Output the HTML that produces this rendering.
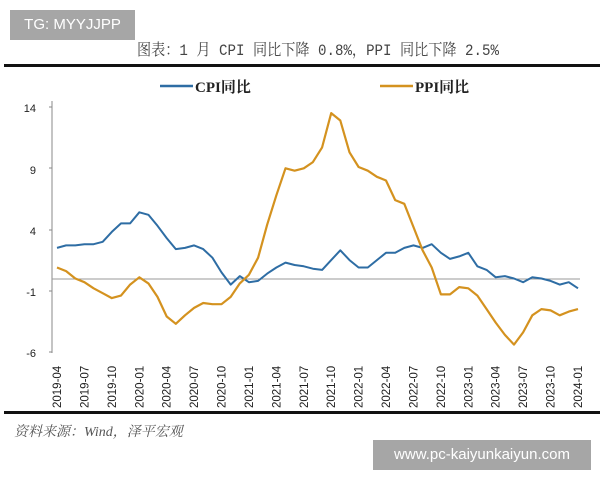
<!DOCTYPE html>
<html><head><meta charset="utf-8"><style>
body{margin:0;background:#fff;width:600px;height:480px;overflow:hidden;position:relative;font-family:"Liberation Sans","Noto Sans CJK SC",sans-serif}
.box{position:absolute;background:#a6a6a6;color:#fff;font-size:15px}
</style></head><body>
<svg id="s" width="600" height="480" style="position:absolute;left:0;top:0">
<text x="137" y="55" textLength="362" lengthAdjust="spacingAndGlyphs" font-family="Liberation Mono,Noto Serif CJK SC,serif" font-size="16" fill="#444">图表：1 月 CPI 同比下降 0.8%，PPI 同比下降 2.5%</text>
<rect x="4" y="64" width="596" height="3" fill="#111"/>
<line x1="160" y1="86" x2="193" y2="86" stroke="#2e6da4" stroke-width="2.5"/>
<text x="195" y="92" font-size="15" font-weight="bold" fill="#222" font-family="Liberation Serif,Noto Serif CJK SC,serif">CPI同比</text>
<line x1="380" y1="86" x2="413" y2="86" stroke="#d4921f" stroke-width="2.5"/>
<text x="415" y="92" font-size="15" font-weight="bold" fill="#222" font-family="Liberation Serif,Noto Serif CJK SC,serif">PPI同比</text>
<line x1="52" y1="101" x2="52" y2="353" stroke="#888" stroke-width="1"/>
<line x1="52" y1="279" x2="580" y2="279" stroke="#999" stroke-width="1"/>
<g font-size="11" fill="#222" text-anchor="end">
<text x="36" y="112">14</text><text x="36" y="174">9</text><text x="36" y="235">4</text><text x="36" y="296">-1</text><text x="36" y="357">-6</text>
</g>
<g stroke="#888"><line x1="49" y1="107" x2="52" y2="107"/><line x1="49" y1="168" x2="52" y2="168"/><line x1="49" y1="230" x2="52" y2="230"/><line x1="49" y1="291" x2="52" y2="291"/><line x1="49" y1="352" x2="52" y2="352"/></g>
<g id="xl" font-size="11.5" fill="#222"></g>
<polyline id="cpi" fill="none" stroke="#2e6da4" stroke-width="2" stroke-linejoin="round"/>
<polyline id="ppi" fill="none" stroke="#d4921f" stroke-width="2.2" stroke-linejoin="round"/>
<rect x="4" y="411" width="596" height="3" fill="#111"/>
<text x="14" y="436" font-size="14" font-style="italic" fill="#555" font-family="Liberation Serif,Noto Serif CJK SC,serif">资料来源：Wind，泽平宏观</text>
</svg>
<div class="box" style="left:10px;top:10px;width:125px;height:30px;line-height:30px;text-align:center">TG: MYYJJPP</div>
<div class="box" style="left:373px;top:440px;width:218px;height:30px;line-height:30px;text-align:center">www.pc-kaiyunkaiyun.com</div>
<script>
var cpi=[2.5,2.7,2.7,2.8,2.8,3.0,3.8,4.5,4.5,5.4,5.2,4.3,3.3,2.4,2.5,2.7,2.4,1.7,0.5,-0.5,0.2,-0.3,-0.2,0.4,0.9,1.3,1.1,1.0,0.8,0.7,1.5,2.3,1.5,0.9,0.9,1.5,2.1,2.1,2.5,2.7,2.5,2.8,2.1,1.6,1.8,2.1,1.0,0.7,0.1,0.2,0.0,-0.3,0.1,0.0,-0.2,-0.5,-0.3,-0.8];
var ppi=[0.9,0.6,0.0,-0.3,-0.8,-1.2,-1.6,-1.4,-0.5,0.1,-0.4,-1.5,-3.1,-3.7,-3.0,-2.4,-2.0,-2.1,-2.1,-1.5,-0.4,0.3,1.7,4.4,6.8,9.0,8.8,9.0,9.5,10.7,13.5,12.9,10.3,9.1,8.8,8.3,8.0,6.4,6.1,4.2,2.3,0.9,-1.3,-1.3,-0.7,-0.8,-1.4,-2.5,-3.6,-4.6,-5.4,-4.4,-3.0,-2.5,-2.6,-3.0,-2.7,-2.5];
function X(i){return 57+i*9.14}function Y(v){return 107+(14-v)*12.25}
function pts(a){return a.map(function(v,i){return X(i).toFixed(1)+","+Y(v).toFixed(1)}).join(" ")}
document.getElementById("cpi").setAttribute("points",pts(cpi));
document.getElementById("ppi").setAttribute("points",pts(ppi));
var g=document.getElementById("xl"),m=["04","07","10","01"],y=2019,h="";
for(var k=0;k<20;k++){var mm=m[k%4];if(mm=="01")y++;var x=X(k*3)+4;h+='<text transform="translate('+x.toFixed(1)+',408) rotate(-90)">'+y+"-"+mm+"</text>";}
g.innerHTML=h;
</script>
</body></html>
